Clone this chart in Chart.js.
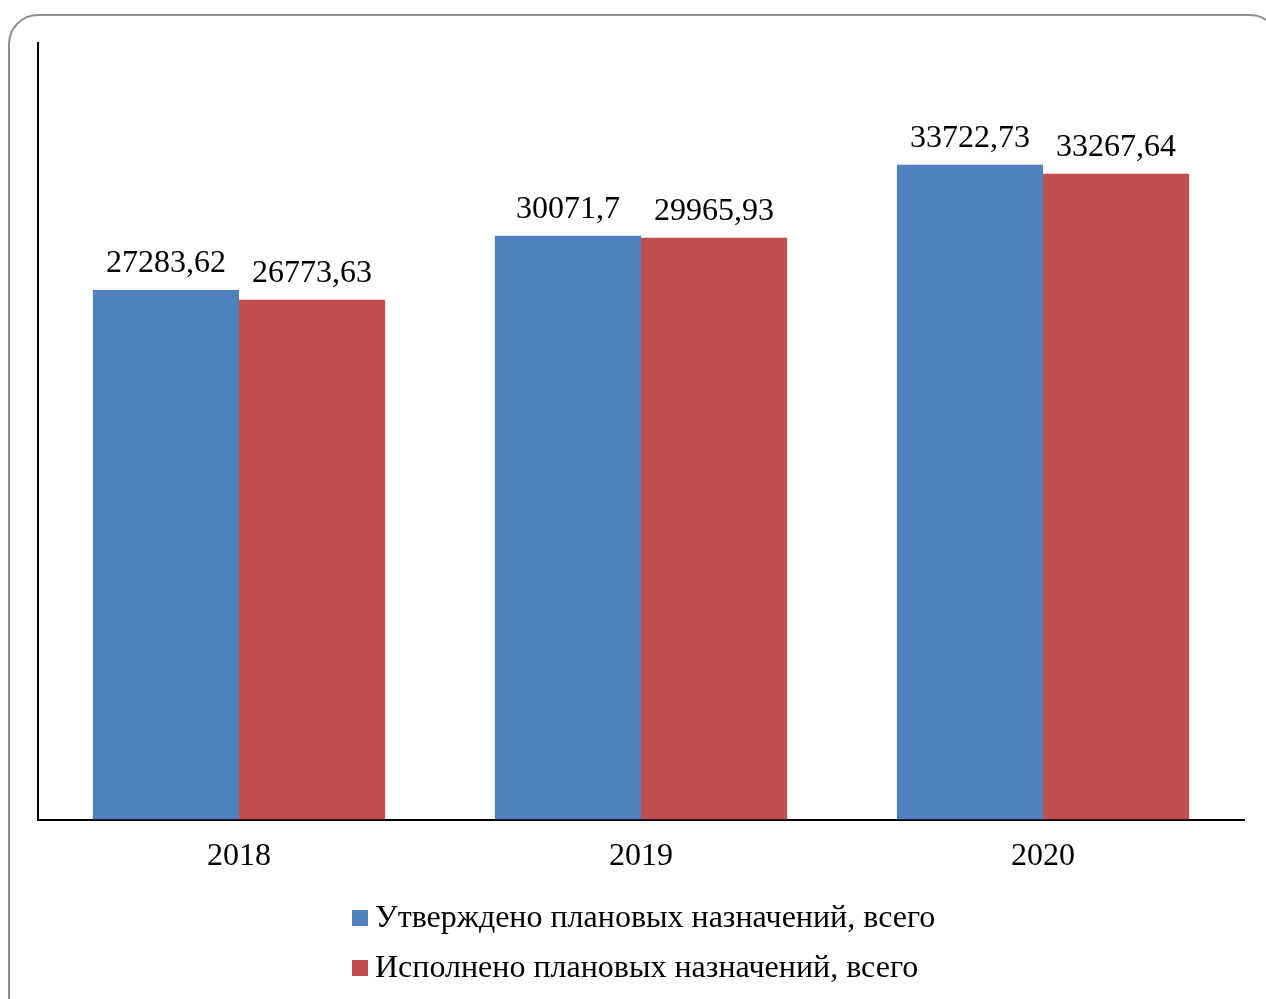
<!DOCTYPE html>
<html>
<head>
<meta charset="utf-8">
<script src="https://cdn.jsdelivr.net/npm/chart.js@4/dist/chart.umd.min.js"></script>
<style>
  html, body { margin: 0; padding: 0; background: #fff; overflow: hidden; }
  #frame {
    position: absolute; left: 8px; top: 14px; width: 1272px; height: 1030px;
    border: 2px solid #8e8e8e; border-radius: 30px; box-sizing: border-box;
  }
  #myChart { position: absolute; left: 0; top: 0; }
</style>
</head>
<body>
<div id="frame"></div>
<canvas id="myChart" width="1266" height="999"></canvas>
<script>
const labels = ['2018', '2019', '2020'];
const approved = [27283.62, 30071.7, 33722.73];
const executed = [26773.63, 29965.93, 33267.64];
const seriesNames = [
  'Утверждено плановых назначений, всего',
  'Исполнено плановых назначений, всего'
];

const serif = "'Liberation Serif', 'Times New Roman', serif";

function fmt(v) {
  return String(v).replace('.', ',');
}

// value labels above bars + legend at the bottom
const barLabels = {
  id: 'barLabels',
  afterDatasetsDraw(chart) {
    const ctx = chart.ctx;
    ctx.save();
    ctx.fillStyle = '#000';
    ctx.font = '32px ' + serif;
    ctx.textAlign = 'center';
    ctx.textBaseline = 'alphabetic';
    chart.data.datasets.forEach((ds, i) => {
      chart.getDatasetMeta(i).data.forEach((bar, j) => {
        ctx.fillText(fmt(ds.data[j]), bar.x, bar.y - 18);
      });
    });

    ctx.font = '32px ' + serif;
    ctx.textAlign = 'left';
    ctx.textBaseline = 'middle';
    chart.data.datasets.forEach((ds, i) => {
      const y = 918 + i * 50;
      ctx.fillStyle = ds.backgroundColor;
      ctx.fillRect(352, y - 8, 16, 16);
      ctx.fillStyle = '#000';
      ctx.fillText(ds.label, 375, y + 1);
    });
    ctx.restore();
  }
};

const data = {
  labels: labels,
  datasets: [{
    label: seriesNames[0],
    backgroundColor: '#4F81BD',
    data: approved,
  }, {
    label: seriesNames[1],
    backgroundColor: '#C0504D',
    data: executed,
  }]
};

const config = {
  type: 'bar',
  data: data,
  options: {
    responsive: false,
    animation: false,
    layout: { padding: { left: 38, right: 22, top: 43, bottom: 105 } },
    datasets: { bar: { categoryPercentage: 0.727, barPercentage: 1 } },
    plugins: {
      legend: { display: false },
      tooltip: { enabled: false }
    },
    scales: {
      x: {
        grid: { display: false, drawTicks: false },
        border: { display: true, color: '#000', width: 2 },
        ticks: { color: '#000', font: { family: serif, size: 32 }, padding: 18 }
      },
      y: {
        min: 0,
        max: 40000,
        grid: { display: false, drawTicks: false },
        border: { display: true, color: '#000', width: 2 },
        ticks: { display: false }
      }
    }
  },
  plugins: [barLabels]
};

const myChart = new Chart(document.getElementById('myChart'), config);
</script>
</body>
</html>
